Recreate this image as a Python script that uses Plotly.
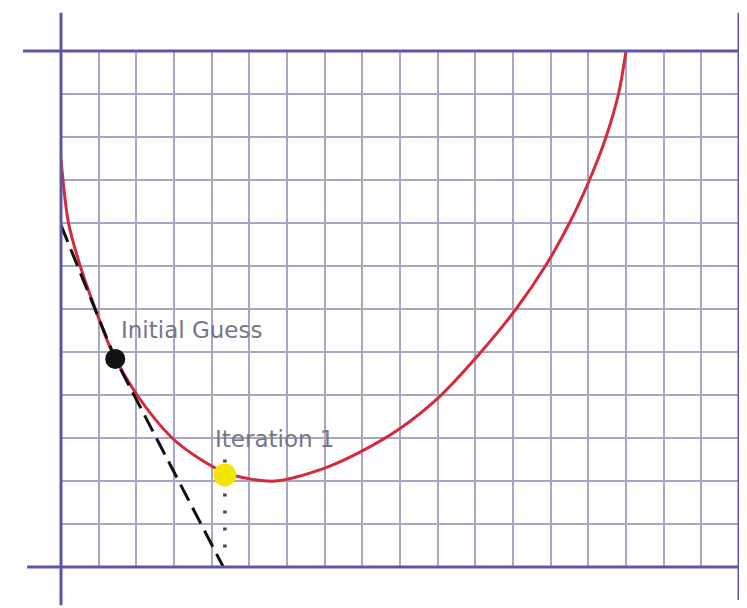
import plotly.graph_objects as go

# Curve points (grid units: 18 columns x 12 rows)
curve_x = [0.0, 0.2, 0.51, 0.91, 1.36, 2.02, 2.95, 3.71, 4.35, 5.0, 5.69, 7.0, 8.0, 9.0, 10.0, 11.15, 12.08, 12.86, 13.5, 14.03, 14.47, 14.8, 15.0]
curve_y = [9.48, 8.0, 7.0, 6.0, 5.0, 4.0, 3.0, 2.5, 2.2, 2.05, 2.0, 2.3, 2.7, 3.22, 3.92, 5.0, 6.0, 7.0, 8.0, 9.0, 10.0, 11.0, 12.0]

tangent_x = [0.0, 1.44, 4.31]
tangent_y = [7.95, 4.84, 0.0]

guess_x, guess_y = [1.44], [4.84]
iter_x, iter_y = [4.35], [2.14]
drop_x = [4.35, 4.35]
drop_y = [2.5, 0.35]

labels = ["Initial Guess", "Iteration 1"]
label_x = [1.54, 4.03]
label_y = [5.51, 2.98]

x_range = [0, 18]
y_range = [0, 12]

AX = "#5a56ae"
GRID = "#a8a6c0"

fig = go.Figure()
fig.add_trace(go.Scatter(x=curve_x, y=curve_y, mode="lines", line=dict(color="#d42a3c", width=3, shape="spline", smoothing=0.9), hoverinfo="skip"))
fig.add_trace(go.Scatter(x=tangent_x, y=tangent_y, mode="lines", line=dict(color="#111111", width=3, dash="18px,8px"), hoverinfo="skip"))
fig.add_trace(go.Scatter(x=drop_x, y=drop_y, mode="lines", line=dict(color="#444444", width=3.5, dash="3px,14px"), hoverinfo="skip"))
fig.add_trace(go.Scatter(x=guess_x, y=guess_y, mode="markers", marker=dict(color="#111111", size=20, symbol="circle"), hoverinfo="skip"))
fig.add_trace(go.Scatter(x=iter_x, y=iter_y, mode="markers", marker=dict(color="#f2e600", size=23, symbol="circle"), hoverinfo="skip"))

for t, lx, ly in zip(labels, label_x, label_y):
    fig.add_annotation(x=lx, y=ly, text=t, showarrow=False, xanchor="left", yanchor="middle",
                       font=dict(family="DejaVu Sans", size=23, color="#76768a"))

# axis frame lines extending beyond plot area
lines = [
    dict(x0=0, x1=0, y0=-0.074, y1=1.074),
    dict(x0=1, x1=1, y0=-0.064, y1=1.074),
    dict(x0=-0.056, x1=1.02, y0=1, y1=1),
    dict(x0=-0.05, x1=1.02, y0=0, y1=0),
]
for ln in lines:
    fig.add_shape(type="line", xref="paper", yref="paper", line=dict(color=AX, width=3), layer="above", **ln)

fig.update_xaxes(range=x_range, dtick=1, showgrid=True, gridcolor=GRID, gridwidth=2, zeroline=False,
                 showticklabels=False, ticks="", showline=False)
fig.update_yaxes(range=y_range, dtick=1, showgrid=True, gridcolor=GRID, gridwidth=2, zeroline=False,
                 showticklabels=False, ticks="", showline=False)
fig.update_layout(width=739, height=600, margin=dict(l=53, r=8, t=43, b=41),
                  plot_bgcolor="white", paper_bgcolor="white", showlegend=False)
fig.write_html("out.html")
